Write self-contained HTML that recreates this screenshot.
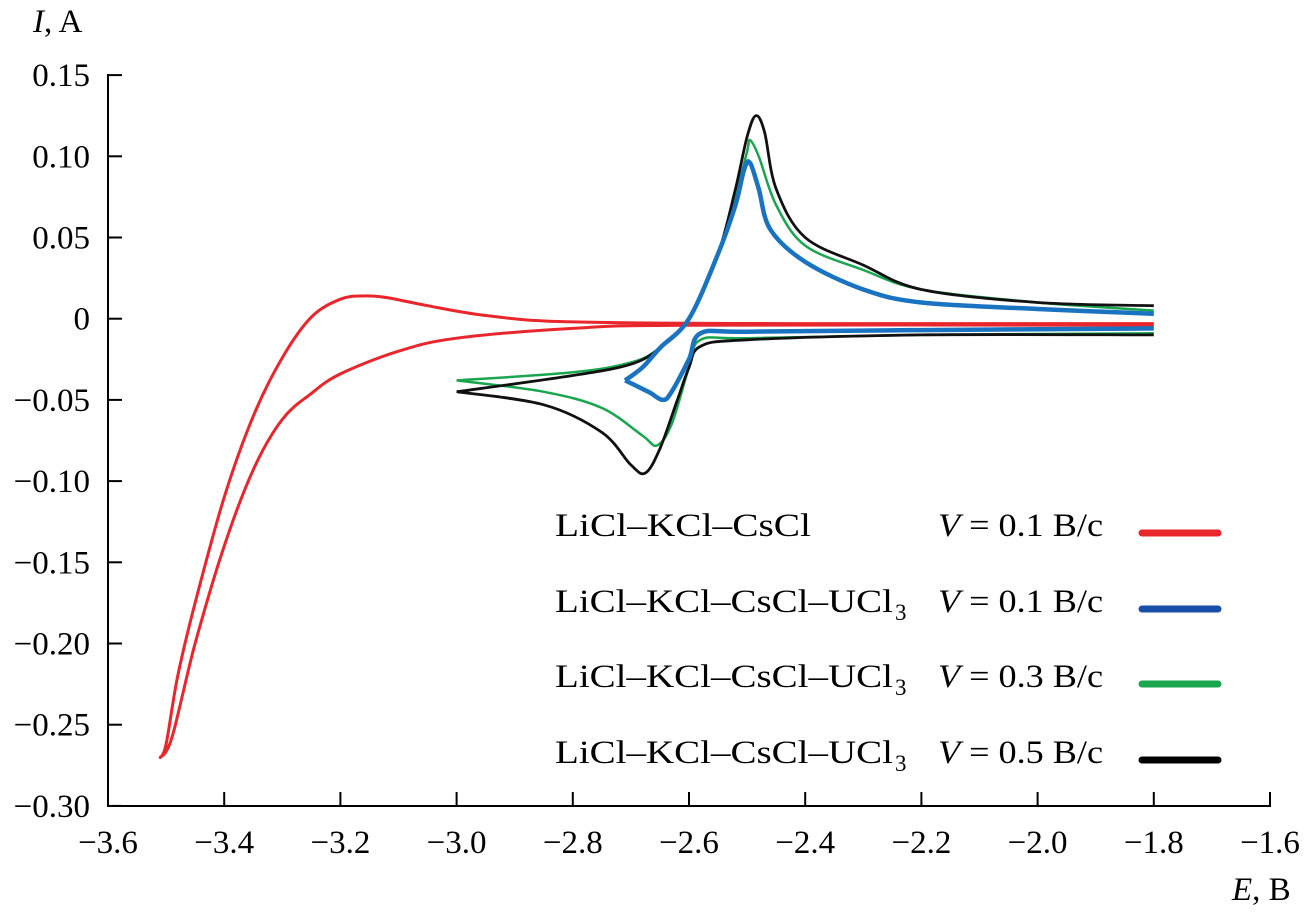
<!DOCTYPE html>
<html><head><meta charset="utf-8"><style>
body{margin:0;background:#fff}
svg{display:block;font-family:"Liberation Serif",serif}
</style></head><body>
<svg id="chart" width="1306" height="913">
<g id="axes"></g><g id="curves"></g><g id="legend"></g>
</svg>
<script>
const xTicks=[-3.6,-3.4,-3.2,-3.0,-2.8,-2.6,-2.4,-2.2,-2.0,-1.8,-1.6];
const xTickLabels=["−3.6","−3.4","−3.2","−3.0","−2.8","−2.6","−2.4","−2.2","−2.0","−1.8","−1.6"];
const yTicks=[0.15,0.10,0.05,0,-0.05,-0.10,-0.15,-0.20,-0.25,-0.30];
const yTickLabels=["0.15","0.10","0.05","0","−0.05","−0.10","−0.15","−0.20","−0.25","−0.30"];
const redE=[-1.8,-2.4,-2.8,-2.95,-3.05,-3.12,-3.16,-3.2,-3.25,-3.3,-3.35,-3.4,-3.45,-3.48,-3.5,-3.51,-3.49,-3.45,-3.4,-3.35,-3.3,-3.25,-3.2,-3.1,-3.0,-2.8,-2.6,-1.8];
const redI=[-0.003,-0.003,-0.002,0.002,0.008,0.013,0.014,0.012,0.001,-0.024,-0.06,-0.11,-0.175,-0.22,-0.262,-0.27,-0.258,-0.2,-0.14,-0.093,-0.062,-0.046,-0.034,-0.02,-0.012,-0.006,-0.004,-0.004];
const blackE=[-3.0,-2.8,-2.7,-2.65,-2.6,-2.55,-2.52,-2.5,-2.485,-2.47,-2.45,-2.4,-2.3,-2.2,-2.0,-1.8,-1.8,-2.2,-2.5,-2.58,-2.6,-2.62,-2.65,-2.675,-2.7,-2.75,-2.85,-3.0];
const blackI=[-0.045,-0.035,-0.028,-0.018,0.0,0.04,0.08,0.112,0.125,0.115,0.08,0.05,0.033,0.018,0.01,0.008,-0.01,-0.01,-0.013,-0.017,-0.03,-0.05,-0.08,-0.095,-0.09,-0.07,-0.053,-0.045];
const greenE=[-3.0,-2.8,-2.7,-2.65,-2.6,-2.55,-2.52,-2.5,-2.495,-2.48,-2.45,-2.4,-2.3,-2.2,-2.0,-1.8,-1.8,-2.2,-2.5,-2.58,-2.6,-2.63,-2.655,-2.68,-2.75,-2.85,-3.0];
const greenI=[-0.038,-0.033,-0.027,-0.018,0.0,0.04,0.075,0.103,0.11,0.1,0.07,0.045,0.03,0.018,0.01,0.005,-0.009,-0.01,-0.012,-0.013,-0.03,-0.065,-0.078,-0.072,-0.055,-0.045,-0.038];
const blueE=[-2.71,-2.68,-2.65,-2.6,-2.55,-2.52,-2.505,-2.495,-2.48,-2.46,-2.4,-2.3,-2.2,-2.0,-1.8,-1.8,-2.2,-2.5,-2.58,-2.6,-2.63,-2.645,-2.67,-2.71];
const blueI=[-0.038,-0.03,-0.018,0.0,0.04,0.07,0.092,0.096,0.08,0.055,0.035,0.018,0.01,0.006,0.003,-0.006,-0.007,-0.008,-0.009,-0.025,-0.045,-0.05,-0.045,-0.038];
const legendLabels=["LiCl–KCl–CsCl","LiCl–KCl–CsCl–UCl","LiCl–KCl–CsCl–UCl","LiCl–KCl–CsCl–UCl"];
const legendRates=["0.1","0.1","0.3","0.5"];
const NS="http://www.w3.org/2000/svg";
const X=e=>108+(e+3.6)*581;
const Y=i=>318.7-i*1624;
function mk(tag,attrs,parent,text){const el=document.createElementNS(NS,tag);for(const k in attrs)el.setAttribute(k,attrs[k]);if(text!==undefined)el.textContent=text;parent.appendChild(el);return el;}
const axes=document.getElementById('axes');
let a=mk('line',{x1:108,y1:74,x2:108,y2:807,stroke:'#000','stroke-width':2},axes);

a=mk('line',{x1:107,y1:806,x2:1271,y2:806,stroke:'#000','stroke-width':2},axes);

xTicks.forEach((v,k)=>{mk('line',{x1:X(v),y1:806,x2:X(v),y2:792,stroke:'#000','stroke-width':2},axes);
 const t=mk('text',{x:X(v),y:853,'text-anchor':'middle','font-size':33},axes,xTickLabels[k]);
 });
yTicks.forEach((v,k)=>{mk('line',{x1:108,y1:Y(v),x2:122,y2:Y(v),stroke:'#000','stroke-width':2},axes);
 const t=mk('text',{x:90,y:Y(v)+11,'text-anchor':'end','font-size':33},axes,yTickLabels[k]);
 });
let t=mk('text',{x:33,y:32,'font-size':33},axes);t.innerHTML='<tspan font-style="italic">I</tspan>, A';

t=mk('text',{x:1232,y:900,'font-size':33},axes);t.innerHTML='<tspan font-style="italic">E</tspan>, B';

const curves=document.getElementById('curves');
function spline(P){
 let d='';
 for(let k=0;k<P.length-1;k++){
  const p0=P[Math.max(0,k-1)],p1=P[k],p2=P[k+1],p3=P[Math.min(P.length-1,k+2)];
  const s=0.5/3;
  const c1=[p1[0]+(p2[0]-p0[0])*s,p1[1]+(p2[1]-p0[1])*s];
  const c2=[p2[0]-(p3[0]-p1[0])*s,p2[1]-(p3[1]-p1[1])*s];
  d+='C'+c1[0].toFixed(1)+','+c1[1].toFixed(1)+' '+c2[0].toFixed(1)+','+c2[1].toFixed(1)+' '+p2[0].toFixed(1)+','+p2[1].toFixed(1);
 }
 return d;
}
function draw(E,I,color,w,name){
 const P=E.map((e,k)=>[X(e),Y(I[k])]);
 let cut=-1;for(let k=1;k<E.length;k++){if(E[k]===E[k-1]){cut=k;break;}}
 let d='M'+P[0][0].toFixed(1)+','+P[0][1].toFixed(1);
 if(cut>0){d+=spline(P.slice(0,cut))+'M'+P[cut][0].toFixed(1)+','+P[cut][1].toFixed(1)+spline(P.slice(cut));}
 else d+=spline(P);
 const p=mk('path',{d:d,fill:'none',stroke:color,'stroke-width':w,'stroke-linejoin':'round','stroke-linecap':'butt'},curves);
 }
draw(redE,redI,'#e8262c',3,'curve-licl-kcl-cscl');
draw(greenE,greenI,'#1aa54f',2.5,'curve-ucl3-0.3');
draw(blackE,blackI,'#111',2.8,'curve-ucl3-0.5');
draw(blueE,blueI,'#1a73c0',4.5,'curve-ucl3-0.1');
const lg=document.getElementById('legend');
const rows=[533,609,684,760];const cols=['#e8262c','#1a4fa8','#1aa54f','#000'];
legendLabels.forEach((lab,k)=>{const g=mk('g',{},lg);
 mk('text',{x:555,y:rows[k]+3,'font-size':33,textLength:(k>0?338:256),lengthAdjust:'spacingAndGlyphs'},g,lab);
 if(k>0){mk('text',{x:895,y:rows[k]+11,'font-size':23},g,'3');}
 mk('text',{x:938,y:rows[k]+3,'font-size':33,textLength:165,lengthAdjust:'spacingAndGlyphs'},g).innerHTML='<tspan font-style="italic">V</tspan> = '+legendRates[k]+' B/c';
 mk('line',{x1:1142,y1:rows[k],x2:1218,y2:rows[k],stroke:cols[k],'stroke-width':7,'stroke-linecap':'round'},g);});
</script>
</body></html>
